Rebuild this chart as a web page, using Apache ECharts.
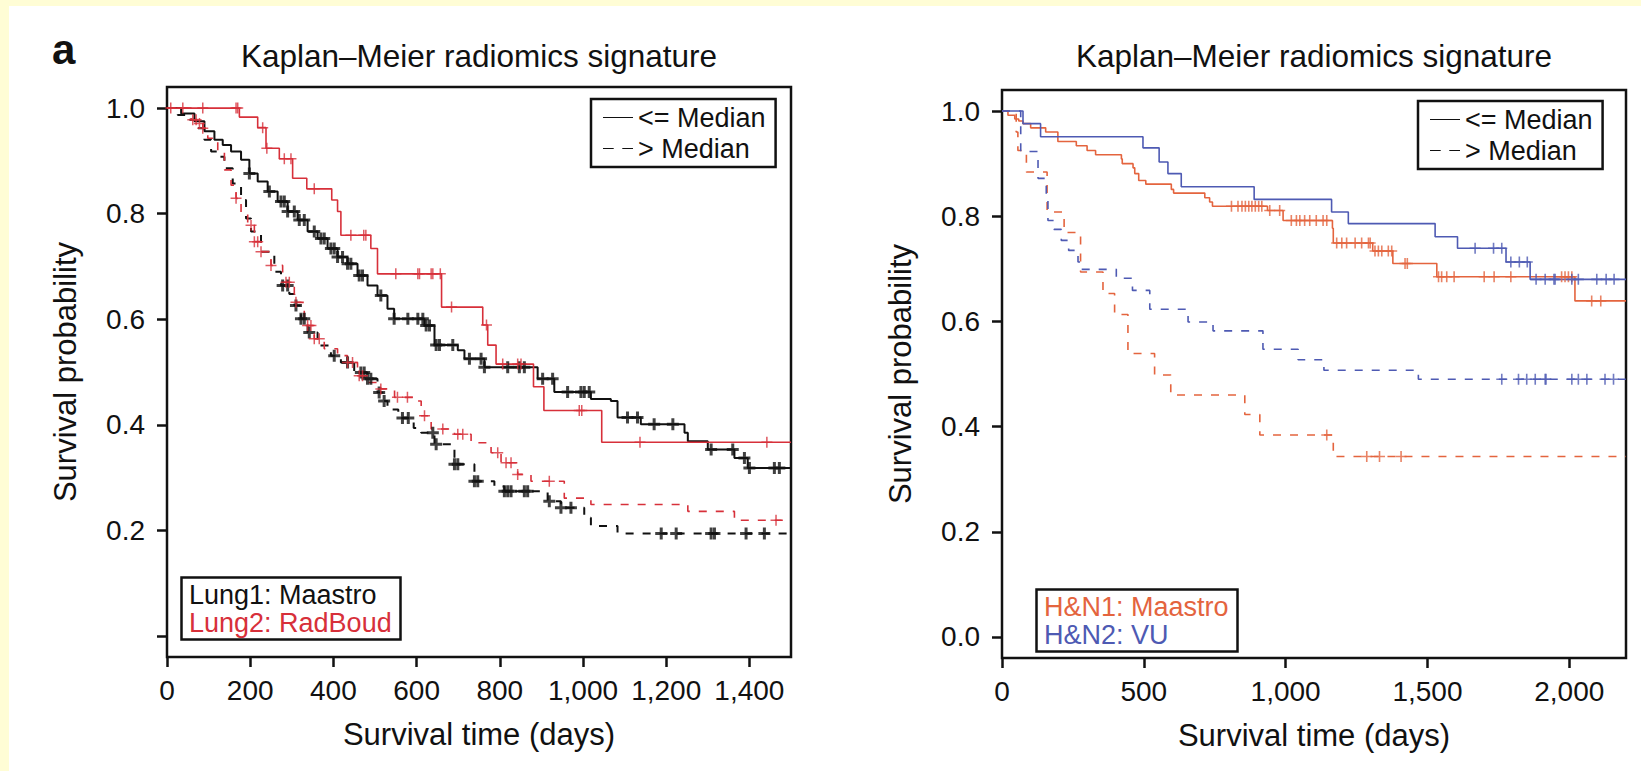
<!DOCTYPE html>
<html>
<head>
<meta charset="utf-8">
<title>Kaplan-Meier radiomics signature</title>
<script src="https://cdn.jsdelivr.net/npm/echarts@6/dist/echarts.min.js"></script>
<style>
  html, body { margin: 0; padding: 0; background: #FFFDD5; }
  #chart { position: absolute; left: 9px; top: 6px; width: 1632px; height: 765px; background: #fff; }
</style>
</head>
<body>
<div id="chart"></div>
<script>
// ---- data (days, survival probability) ----

// Lung1: Maastro, <= median (black solid)
const lung1LowT = [0, 34, 66, 90, 114, 134, 154, 178, 198, 218, 242, 266, 290, 314, 338, 362, 386, 410, 434, 458, 482, 506, 530, 546, 619, 643, 699, 715, 763, 891, 931, 1019, 1067, 1083, 1139, 1244, 1252, 1300, 1364, 1396, 1500];
const lung1LowS = [1.0, 0.990, 0.975, 0.956, 0.940, 0.930, 0.918, 0.902, 0.876, 0.861, 0.842, 0.823, 0.804, 0.788, 0.766, 0.753, 0.734, 0.718, 0.705, 0.683, 0.664, 0.645, 0.620, 0.601, 0.588, 0.551, 0.541, 0.525, 0.509, 0.487, 0.462, 0.449, 0.445, 0.414, 0.401, 0.385, 0.369, 0.353, 0.337, 0.318, 0.318];
const lung1LowCens = [198, 246, 274, 282, 290, 306, 318, 330, 354, 370, 378, 394, 402, 410, 422, 434, 442, 462, 470, 514, 546, 579, 603, 615, 623, 631, 647, 655, 687, 727, 755, 763, 819, 847, 859, 903, 927, 963, 995, 1003, 1015, 1107, 1131, 1171, 1216, 1308, 1360, 1388, 1400, 1460, 1472];

// Lung1: Maastro, > median (black dashed)
const lung1HighT = [0, 26, 50, 74, 90, 106, 126, 138, 158, 178, 190, 202, 226, 258, 274, 294, 306, 322, 338, 362, 394, 418, 450, 482, 506, 518, 530, 556, 593, 611, 643, 691, 739, 787, 811, 915, 947, 1003, 1019, 1083, 1500];
const lung1HighS = [1.0, 0.987, 0.978, 0.962, 0.940, 0.918, 0.908, 0.886, 0.857, 0.826, 0.791, 0.766, 0.728, 0.690, 0.664, 0.648, 0.626, 0.601, 0.575, 0.550, 0.531, 0.518, 0.499, 0.487, 0.461, 0.445, 0.429, 0.413, 0.394, 0.385, 0.363, 0.325, 0.293, 0.283, 0.274, 0.255, 0.243, 0.224, 0.208, 0.194, 0.194];
const lung1HighCens = [278, 290, 310, 322, 330, 342, 402, 434, 466, 474, 482, 490, 510, 522, 566, 580, 639, 647, 691, 699, 739, 747, 811, 819, 827, 859, 867, 919, 947, 971, 1188, 1224, 1308, 1316, 1392, 1436];

// Lung2: RadBoud, <= median (red solid)
const lung2LowT = [0, 174, 218, 238, 270, 302, 336, 396, 410, 418, 490, 506, 660, 759, 771, 791, 881, 906, 1045, 1500];
const lung2LowS = [1.0, 0.983, 0.963, 0.924, 0.904, 0.867, 0.847, 0.826, 0.804, 0.759, 0.734, 0.686, 0.623, 0.589, 0.551, 0.515, 0.472, 0.427, 0.367, 0.367];
const lung2LowCens = [9, 38, 86, 166, 170, 230, 240, 282, 298, 354, 442, 473, 478, 550, 603, 607, 635, 639, 657, 684, 768, 807, 843, 851, 991, 997, 1137, 1442];

// Lung2: RadBoud, > median (red dashed)
const lung2HighT = [0, 58, 74, 86, 98, 122, 138, 154, 166, 178, 194, 210, 226, 250, 278, 306, 330, 354, 378, 410, 434, 458, 482, 514, 547, 595, 611, 635, 691, 731, 779, 803, 843, 875, 955, 1019, 1252, 1364, 1500];
const lung2HighS = [1.0, 0.978, 0.971, 0.962, 0.943, 0.918, 0.883, 0.854, 0.829, 0.800, 0.778, 0.747, 0.728, 0.702, 0.670, 0.632, 0.588, 0.563, 0.544, 0.531, 0.518, 0.493, 0.480, 0.468, 0.452, 0.445, 0.417, 0.392, 0.382, 0.366, 0.347, 0.328, 0.306, 0.293, 0.261, 0.249, 0.236, 0.219, 0.219];
const lung2HighCens = [62, 70, 78, 86, 166, 202, 210, 218, 226, 250, 286, 294, 310, 338, 346, 354, 366, 434, 446, 462, 470, 514, 554, 578, 619, 663, 699, 711, 795, 815, 827, 843, 919, 1464];

// H&N1: Maastro, <= median (orange solid)
const hn1LowT = [0, 21, 45, 59, 74, 101, 154, 197, 262, 300, 330, 421, 424, 462, 468, 482, 507, 597, 605, 715, 732, 742, 936, 991, 1165, 1168, 1307, 1378, 1533, 2020, 2200];
const hn1LowS = [1.0, 0.992, 0.985, 0.981, 0.976, 0.968, 0.960, 0.942, 0.934, 0.925, 0.917, 0.909, 0.900, 0.892, 0.881, 0.868, 0.861, 0.851, 0.844, 0.835, 0.827, 0.819, 0.811, 0.792, 0.777, 0.749, 0.734, 0.710, 0.685, 0.639, 0.639];
const hn1LowCens = [809, 832, 846, 858, 870, 881, 893, 905, 916, 944, 979, 1020, 1038, 1050, 1067, 1085, 1108, 1132, 1145, 1180, 1198, 1215, 1245, 1268, 1292, 1298, 1315, 1327, 1339, 1362, 1374, 1421, 1429, 1539, 1550, 1568, 1594, 1700, 1735, 1794, 1973, 1985, 1997, 2009, 2079, 2111];

// H&N1: Maastro, > median (orange dashed)
const hn1HighT = [0, 50, 56, 86, 159, 219, 277, 356, 397, 444, 538, 595, 856, 909, 1168, 2200];
const hn1HighS = [1.0, 0.960, 0.925, 0.884, 0.808, 0.769, 0.694, 0.653, 0.613, 0.539, 0.498, 0.460, 0.423, 0.384, 0.343, 0.343];
const hn1HighCens = [1145, 1286, 1331, 1407];

// H&N2: VU, <= median (blue solid)
const hn2LowT = [0, 74, 136, 497, 554, 585, 632, 889, 1162, 1221, 1527, 1606, 1777, 1862, 2200];
const hn2LowS = [1.0, 0.976, 0.951, 0.930, 0.903, 0.881, 0.856, 0.832, 0.808, 0.786, 0.761, 0.739, 0.713, 0.680, 0.680];
const hn2LowCens = [1668, 1733, 1762, 1794, 1824, 1852, 1883, 1915, 1946, 1950, 2009, 2032, 2097, 2130, 2158];

// H&N2: VU, > median (blue dashed)
const hn2HighT = [0, 66, 127, 156, 162, 183, 209, 235, 268, 280, 403, 460, 521, 656, 744, 920, 1044, 1135, 1468, 2200];
const hn2HighS = [1.0, 0.923, 0.872, 0.840, 0.792, 0.775, 0.754, 0.735, 0.713, 0.699, 0.682, 0.659, 0.623, 0.599, 0.582, 0.547, 0.527, 0.507, 0.490, 0.490];
const hn2HighCens = [1762, 1821, 1850, 1880, 1915, 1918, 2009, 2032, 2062, 2126, 2156];

// axis ticks
const lungXTicks = [0, 200, 400, 600, 800, 1000, 1200, 1400];
const hnXTicks = [0, 500, 1000, 1500, 2000];
const yTicks = [0, 0.2, 0.4, 0.6, 0.8, 1.0];
const lungYLabels = [0.2, 0.4, 0.6, 0.8, 1.0];

// ---- styling ----
const FONT = '"Liberation Sans", Arial, Helvetica, sans-serif';
const INK = '#111';
const RED = '#D7303A';
const ORANGE = '#E4643E';
const BLUE = '#4E5AB3';
const DASH = [8, 9];
const PLUS = 'path://M0,5L10,5M5,0L5,10';
const SOLID_ICON = 'path://M0,0H30V1H0Z';
const DASH_ICON = 'path://M0,0H10V1H0ZM18,0H28V1H18Z';
const OX = 9, OY = 6; // chart div offset inside the page

function stepAt(times, surv, t) {
  let s = surv[0];
  for (let i = 0; i < times.length; i++) {
    if (times[i] <= t) s = surv[i]; else break;
  }
  return s;
}

function curve(times, surv, color, width, dashed, g) {
  return {
    type: 'line', step: 'end', xAxisIndex: g, yAxisIndex: g,
    data: times.map((t, i) => [t, surv[i]]),
    symbol: 'none', silent: true, z: 3,
    lineStyle: { color: color, width: width, type: dashed ? DASH : 'solid' },
    itemStyle: { color: color }
  };
}

function censor(times, surv, marks, color, size, width, g) {
  return {
    type: 'scatter', xAxisIndex: g, yAxisIndex: g,
    data: marks.map(t => [t, stepAt(times, surv, t)]),
    symbol: PLUS, symbolSize: size, silent: true, z: 4,
    itemStyle: { color: color, borderColor: color, borderWidth: width }
  };
}

function xAxisFor(g, max, ticks) {
  return {
    type: 'value', gridIndex: g, min: 0, max: max,
    name: 'Survival time (days)', nameLocation: 'middle', nameGap: 62,
    nameTextStyle: { fontFamily: FONT, fontSize: 31, color: INK },
    axisLine: { show: false, onZero: false },
    splitLine: { show: false },
    axisTick: { show: true, inside: false, length: 10, customValues: ticks, lineStyle: { color: INK, width: 2.5 } },
    axisLabel: { customValues: ticks, margin: 19, fontFamily: FONT, fontSize: 28, color: INK,
      formatter: v => v.toLocaleString('en-US') }
  };
}

function yAxisFor(g, labels) {
  return {
    type: 'value', gridIndex: g, min: -0.04, max: 1.04,
    name: 'Survival probability', nameLocation: 'middle', nameGap: 86,
    nameTextStyle: { fontFamily: FONT, fontSize: 31, color: INK },
    axisLine: { show: false, onZero: false },
    splitLine: { show: false },
    axisTick: { show: true, inside: false, length: 10, customValues: yTicks, lineStyle: { color: INK, width: 2.5 } },
    axisLabel: { customValues: labels, margin: 22, fontFamily: FONT, fontSize: 28, color: INK,
      formatter: v => v.toFixed(1) }
  };
}

function medianLegend(left, top) {
  return {
    orient: 'vertical', left: left - OX, top: top - OY,
    data: [
      { name: '<= Median', icon: SOLID_ICON },
      { name: '> Median', icon: DASH_ICON }
    ],
    selectedMode: false,
    itemWidth: 30, itemHeight: 3, itemGap: 4,
    padding: [5, 10, 5, 12],
    borderColor: INK, borderWidth: 2.5,
    itemStyle: { color: INK, borderWidth: 0 },
    textStyle: { fontFamily: FONT, fontSize: 27, lineHeight: 27, color: INK }
  };
}

function cohortBox(text, left, top, c1, c2) {
  return {
    text: text, left: left - OX, top: top - OY,
    padding: [4, 9, 3, 8], borderColor: INK, borderWidth: 2.5,
    textStyle: {
      fontWeight: 'normal',
      rich: {
        a: { fontFamily: FONT, fontSize: 27, fontWeight: 'normal', lineHeight: 28, color: c1 },
        b: { fontFamily: FONT, fontSize: 27, fontWeight: 'normal', lineHeight: 28, color: c2 }
      }
    }
  };
}

const titleStyle = { fontFamily: FONT, fontSize: 31.5, fontWeight: 'normal', color: INK };

const option = {
  animation: false,
  backgroundColor: '#fff',
  title: [
    { text: 'a', left: 52 - OX, top: 28 - OY, padding: 0,
      textStyle: { fontFamily: FONT, fontSize: 42, fontWeight: 'bold', color: INK } },
    { text: 'Kaplan\u2013Meier radiomics signature', left: 479 - OX, top: 40 - OY, textAlign: 'center', padding: 0, textStyle: titleStyle },
    { text: 'Kaplan\u2013Meier radiomics signature', left: 1314 - OX, top: 40 - OY, textAlign: 'center', padding: 0, textStyle: titleStyle },
    cohortBox('{a|Lung1: Maastro}\n{b|Lung2: RadBoud}', 181, 577, INK, RED),
    cohortBox('{a|H&N1: Maastro}\n{b|H&N2: VU}', 1036, 589, ORANGE, BLUE)
  ],
  legend: [medianLegend(591, 99), medianLegend(1418, 101)],
  grid: [
    { left: 167 - OX, top: 87 - OY, width: 624, height: 570, show: true,
      borderColor: INK, borderWidth: 2.5, backgroundColor: 'transparent' },
    { left: 1002 - OX, top: 90 - OY, width: 624, height: 568, show: true,
      borderColor: INK, borderWidth: 2.5, backgroundColor: 'transparent' }
  ],
  xAxis: [xAxisFor(0, 1500, lungXTicks), xAxisFor(1, 2200, hnXTicks)],
  yAxis: [yAxisFor(0, lungYLabels), yAxisFor(1, yTicks)],
  series: [
    { name: '<= Median', type: 'line', xAxisIndex: 0, yAxisIndex: 0, data: [], symbol: 'none',
      lineStyle: { color: INK, width: 2.5 }, itemStyle: { color: INK } },
    { name: '> Median', type: 'line', xAxisIndex: 0, yAxisIndex: 0, data: [], symbol: 'none',
      lineStyle: { color: INK, width: 2.5, type: DASH }, itemStyle: { color: INK } },

    curve(lung1LowT, lung1LowS, INK, 2, false, 0),
    curve(lung1HighT, lung1HighS, INK, 2, true, 0),
    censor(lung1LowT, lung1LowS, lung1LowCens, INK, 12, 3, 0),
    censor(lung1HighT, lung1HighS, lung1HighCens, INK, 12, 3, 0),
    curve(lung2LowT, lung2LowS, RED, 1.6, false, 0),
    curve(lung2HighT, lung2HighS, RED, 1.6, true, 0),
    censor(lung2LowT, lung2LowS, lung2LowCens, RED, 11, 1.5, 0),
    censor(lung2HighT, lung2HighS, lung2HighCens, RED, 11, 1.5, 0),

    curve(hn1LowT, hn1LowS, ORANGE, 1.6, false, 1),
    curve(hn1HighT, hn1HighS, ORANGE, 1.6, true, 1),
    censor(hn1LowT, hn1LowS, hn1LowCens, ORANGE, 11, 1.6, 1),
    censor(hn1HighT, hn1HighS, hn1HighCens, ORANGE, 11, 1.6, 1),
    curve(hn2LowT, hn2LowS, BLUE, 1.6, false, 1),
    curve(hn2HighT, hn2HighS, BLUE, 1.6, true, 1),
    censor(hn2LowT, hn2LowS, hn2LowCens, BLUE, 11, 1.6, 1),
    censor(hn2HighT, hn2HighS, hn2HighCens, BLUE, 11, 1.6, 1)
  ]
};

const chart = echarts.init(document.getElementById('chart'), null, { renderer: 'svg' });
chart.setOption(option);
</script>
</body>
</html>
